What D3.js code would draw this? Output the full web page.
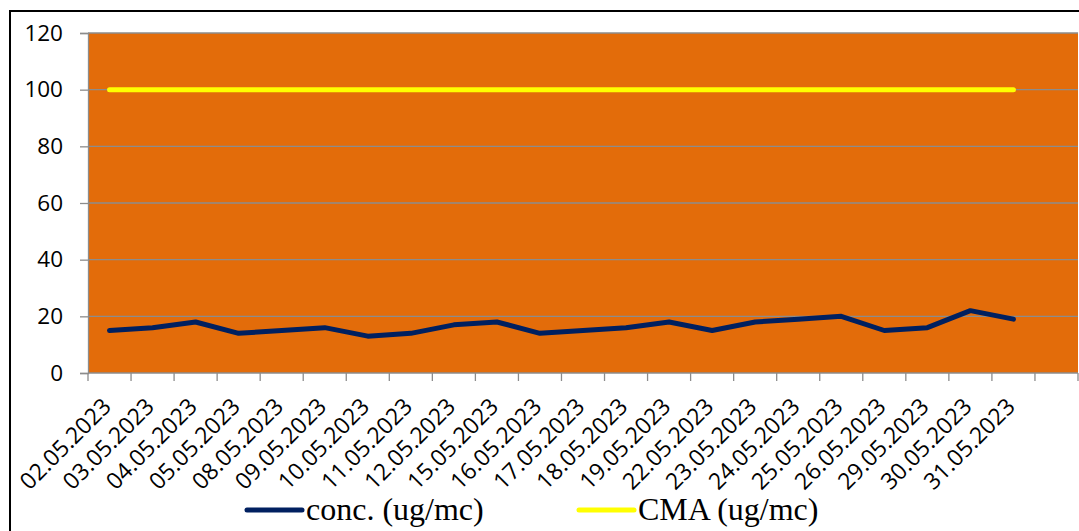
<!DOCTYPE html>
<html>
<head>
<meta charset="utf-8">
<script src="https://cdn.jsdelivr.net/npm/d3@7"></script>
<style>
  body { margin: 0; background: #fff; }
  svg { display: block; }
</style>
</head>
<body>
<svg id="chart" width="1079" height="531"></svg>
<script>
// dates (last slot of the category axis is empty in the original)
var dates = ["02.05.2023", "03.05.2023", "04.05.2023", "05.05.2023", "08.05.2023", "09.05.2023",
    "10.05.2023", "11.05.2023", "12.05.2023", "15.05.2023", "16.05.2023", "17.05.2023",
    "18.05.2023", "19.05.2023", "22.05.2023", "23.05.2023", "24.05.2023", "25.05.2023",
    "26.05.2023", "29.05.2023", "30.05.2023", "31.05.2023"];
var conc = [15, 16, 18, 14, 15, 16, 13, 14, 17, 18, 14, 15, 16, 18, 15, 18, 19, 20, 15, 16, 22, 19];
var cma = [100, 100, 100, 100, 100, 100, 100, 100, 100, 100, 100, 100, 100, 100, 100, 100, 100, 100, 100, 100, 100, 100];
var yTicks = [0, 20, 40, 60, 80, 100, 120];
var seriesNames = ["conc. (ug/mc)", "CMA (ug/mc)"];

var svg = d3.select("#chart");

// plot area
var plotL = 88, plotR = 1078, plotT = 33, plotB = 373;

// outer frame of the chart object
svg.append("rect")
    .attr("x", 10).attr("y", 11)
    .attr("width", 1100).attr("height", 560)
    .attr("fill", "#fff")
    .attr("stroke", "#000")
    .attr("stroke-width", 2);

var slots = dates.concat([""]);
var x = d3.scaleBand().domain(d3.range(slots.length)).range([plotL, plotR]);
var y = d3.scaleLinear().domain([0, 120]).range([plotB, plotT]);

svg.append("rect")
    .attr("x", plotL).attr("y", plotT)
    .attr("width", plotR - plotL).attr("height", plotB - plotT)
    .attr("fill", "#E36C0A");

// gridlines
svg.append("g")
    .selectAll("line")
    .data(yTicks.filter(d => d > 0))
    .enter()
    .append("line")
    .attr("x1", plotL).attr("x2", plotR)
    .attr("y1", d => y(d)).attr("y2", d => y(d))
    .attr("stroke", "#8c8c8c")
    .attr("stroke-width", 1.3);

// y axis
var yAxis = svg.append("g")
    .attr("transform", "translate(" + plotL + ",0)")
    .call(d3.axisLeft(y).tickValues(yTicks).tickSize(8).tickPadding(17));
yAxis.select(".domain").attr("stroke", "#8c8c8c").attr("stroke-width", 1.3);
yAxis.selectAll(".tick line").attr("stroke", "#8c8c8c").attr("stroke-width", 1.3);
yAxis.selectAll("text")
    .attr("font-family", "'Open Sans', sans-serif")
    .attr("font-size", "22.5px")
    .attr("fill", "#000");

// x axis: ticks at the band boundaries
var xg = svg.append("g");
xg.append("line")
    .attr("x1", plotL).attr("x2", plotR)
    .attr("y1", plotB).attr("y2", plotB)
    .attr("stroke", "#8c8c8c").attr("stroke-width", 1.3);
xg.selectAll("line.tk")
    .data(d3.range(slots.length + 1))
    .enter()
    .append("line")
    .attr("class", "tk")
    .attr("x1", d => plotL + d * x.step()).attr("x2", d => plotL + d * x.step())
    .attr("y1", plotB).attr("y2", plotB + 8)
    .attr("stroke", "#8c8c8c").attr("stroke-width", 1.3);

xg.selectAll("text")
    .data(dates)
    .enter()
    .append("text")
    .attr("transform", (d, i) => "translate(" + (x(i) + x.bandwidth() / 2 + 3) + "," + (plotB + 35) + ") rotate(-45)")
    .attr("text-anchor", "end")
    .attr("font-family", "'Open Sans', sans-serif")
    .attr("font-size", "23px")
    .attr("fill", "#000")
    .text(d => d);

// lines
var line = d3.line()
    .x((d, i) => x(i) + x.bandwidth() / 2)
    .y(d => y(d));

svg.append("path")
    .datum(cma)
    .attr("d", line)
    .attr("fill", "none")
    .attr("stroke", "#FFFF00")
    .attr("stroke-width", 5)
    .attr("stroke-linecap", "round")
    .attr("stroke-linejoin", "round");

svg.append("path")
    .datum(conc)
    .attr("d", line)
    .attr("fill", "none")
    .attr("stroke", "#002060")
    .attr("stroke-width", 5)
    .attr("stroke-linecap", "round")
    .attr("stroke-linejoin", "round");

// legend
var legendColors = ["#002060", "#FFFF00"];
var legendX = [247, 579];
var lg = svg.append("g")
    .selectAll("g")
    .data(seriesNames)
    .enter()
    .append("g")
    .attr("transform", (d, i) => "translate(" + legendX[i] + ",510)");
lg.append("line")
    .attr("x1", 0).attr("x2", 55)
    .attr("y1", 0).attr("y2", 0)
    .attr("stroke", (d, i) => legendColors[i])
    .attr("stroke-width", 5)
    .attr("stroke-linecap", "round");
lg.append("text")
    .attr("x", 59).attr("y", 10)
    .attr("font-family", "'Liberation Serif', 'Times New Roman', serif")
    .attr("font-size", "32px")
    .attr("fill", "#000")
    .text(d => d);
</script>
</body>
</html>
